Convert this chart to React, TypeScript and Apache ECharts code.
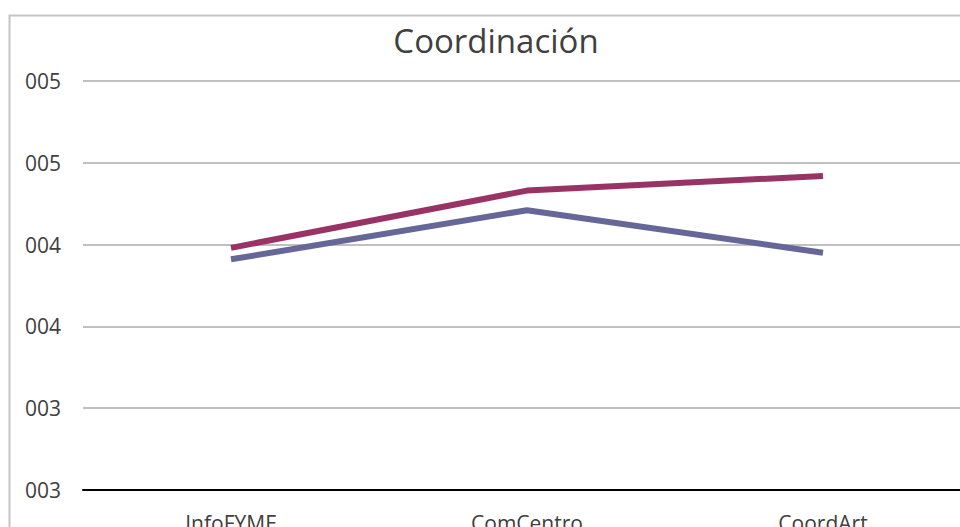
import React, { useEffect, useRef } from "react";
import * as echarts from "echarts";

const categories = ["InfoFYME", "ComCentro", "CoordArt"];
const seriesA = [3.98, 4.33, 4.42];
const seriesB = [3.91, 4.21, 3.95];
const yMin = 2.5;
const yMax = 5.0;
const yStep = 0.5;

export default function App() {
  const ref = useRef<HTMLDivElement>(null);
  useEffect(() => {
    if (!ref.current) return;
    const chart = echarts.init(ref.current, undefined, { renderer: "svg" });
    const font = "'Open Sans', sans-serif";
    chart.setOption({
      animation: false,
      backgroundColor: "#ffffff",
      title: {
        text: "Coordinación",
        left: 491,
        top: 19,
        textAlign: "center",
        textStyle: { fontFamily: font, fontSize: 33, fontWeight: "normal", color: "#404040" },
      },
      graphic: [
        {
          type: "rect",
          shape: { x: 9.5, y: 15.5, width: 1100, height: 700 },
          style: { fill: "none", stroke: "#c6c6c6", lineWidth: 2 },
          silent: true,
          z: -1,
        },
      ],
      grid: {
        left: 83,
        top: 81,
        width: 888,
        height: 409,
        containLabel: false,
        outerBoundsMode: "none",
      },
      xAxis: {
        type: "category",
        data: categories,
        boundaryGap: true,
        axisLine: { show: true, lineStyle: { color: "#000000", width: 2 } },
        axisTick: { show: false },
        axisLabel: { margin: 22, fontFamily: font, fontSize: 21, color: "#404040" },
      },
      yAxis: {
        type: "value",
        min: yMin,
        max: yMax,
        interval: yStep,
        axisLine: { show: false },
        axisTick: { show: false },
        splitLine: { lineStyle: { color: "#c0c0c0", width: 2 } },
        axisLabel: {
          margin: 22,
          fontFamily: font,
          fontSize: 21,
          color: "#404040",
          formatter: (v: number) => String(Math.round(v + 1e-9)).padStart(3, "0"),
        },
      },
      series: [
        {
          type: "line",
          data: seriesA,
          symbol: "none",
          lineStyle: { color: "#993366", width: 6 },
          itemStyle: { color: "#993366" },
          z: 3,
        },
        {
          type: "line",
          data: seriesB,
          symbol: "none",
          lineStyle: { color: "#666699", width: 6 },
          itemStyle: { color: "#666699" },
          z: 2,
        },
      ],
    });
    return () => chart.dispose();
  }, []);
  return (
    <div
      ref={ref}
      style={{ position: "fixed", left: 0, top: 0, width: 960, height: 527, overflow: "hidden", background: "#fff" }}
    />
  );
}
